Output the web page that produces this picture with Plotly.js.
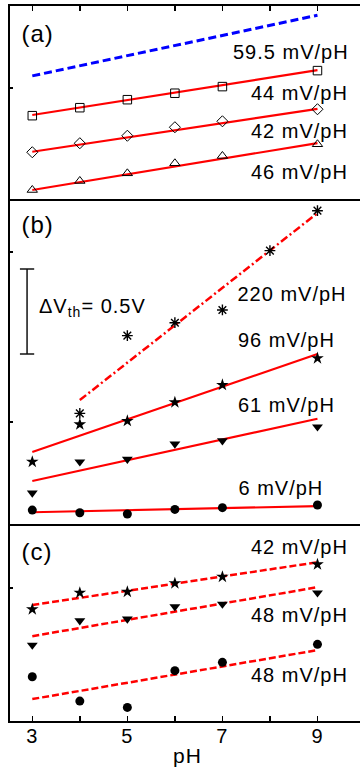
<!DOCTYPE html>
<html>
<head>
<meta charset="utf-8">
<script src="https://cdn.plot.ly/plotly-3.0.1.min.js"></script>
<style>
  html, body { margin: 0; padding: 0; background: #fff; overflow: hidden; }
  #chart { width: 370px; height: 771px; }
  #chart .annotation-text, #chart .xtick text, #chart .g-xtitle text { letter-spacing: 1px; }
</style>
</head>
<body>
<div id="chart"></div>
<script>
// pH values of the measurements
const pH = [3, 4, 5, 6, 7, 9];
const pHHigh = [4, 5, 6, 7, 8, 9];

// Panel (a): threshold voltage shift, V
const squaresA = [0.837, 0.884, 0.931, 0.969, 1.008, 1.102];
const diamondsA = [0.622, 0.675, 0.719, 0.769, 0.804, 0.875];
const trianglesA = [0.400, 0.453, 0.498, 0.557, 0.600, 0.669];

// Panel (b)
const asterisksB = [0.051, 0.508, 0.584, 0.659, 1.008, 1.243];
const starsB = [-0.234, -0.014, 0.006, 0.116, 0.218, 0.375];
const trianglesB = [-0.417, -0.234, -0.219, -0.129, -0.110, -0.028];
const circlesB = [-0.518, -0.534, -0.541, -0.514, -0.504, -0.488];

// Panel (c)
const starsC = [-0.125, -0.028, -0.022, 0.028, 0.066, 0.139];
const trianglesC = [-0.335, -0.192, -0.182, -0.110, -0.094, -0.028];
const circlesC = [-0.522, -0.665, -0.702, -0.486, -0.437, -0.331];

// Sensitivities, mV/pH
const nernstA = 59.5;
const slopesA = [44, 42, 46];
const slopesB = [220, 96, 61, 6];
const slopesC = [42, 48, 48];

// Value of each fit line at its first pH, V
const nernstStartA = 1.071;
const fitStartA = [0.841, 0.625, 0.400];
const fitStartB = [0.129, -0.176, -0.347, -0.531];
const fitFromB = [4, 3, 3, 3];
const fitStartC = [-0.100, -0.283, -0.653];

// Scale bar height, V
const scaleBar = 0.5;

// Labelled x ticks
const xTicks = [3, 5, 7, 9];

const RED = '#ff0000';
const BLACK = '#000000';

function fitLine(x0, y0, slopeMv, x1, xa, ya, line) {
  return {
    x: [x0, x1],
    y: [y0, y0 + slopeMv / 1000 * (x1 - x0)],
    xaxis: xa, yaxis: ya, mode: 'lines', line: line, hoverinfo: 'skip'
  };
}
function points(x, y, xa, ya, marker) {
  return { x: x, y: y, xaxis: xa, yaxis: ya, mode: 'markers', marker: marker };
}
const openMarker = (symbol, size, lw) => ({ symbol: symbol, size: size, color: BLACK, line: { color: BLACK, width: lw || 1 } });
const filledMarker = (symbol, size) => ({ symbol: symbol, size: size, color: BLACK, line: { width: 0 } });

const traces = [];

// Panel (a)
traces.push(fitLine(3, nernstStartA, nernstA, 9, 'x3', 'y3', { color: '#0000ff', width: 3, dash: '8px,4px' }));
slopesA.forEach((s, i) => traces.push(fitLine(3, fitStartA[i], s, 9, 'x3', 'y3', { color: RED, width: 2.2 })));
traces.push(points(pH, squaresA, 'x3', 'y3', openMarker('square-open', 8.5)));
traces.push(points(pH, diamondsA, 'x3', 'y3', openMarker('diamond-open', 8.5)));
traces.push(points(pH, trianglesA, 'x3', 'y3', openMarker('triangle-up-open', 9)));

// Panel (b)
slopesB.forEach((s, i) => traces.push(fitLine(fitFromB[i], fitStartB[i], s, 9, 'x2', 'y2',
  i === 0 ? { color: RED, width: 2.5, dash: '8px,3px,2px,3px' } : { color: RED, width: 2.2 })));
traces.push(points(pHHigh, asterisksB, 'x2', 'y2', openMarker('asterisk-open', 9, 1.4)));
traces.push(points(pH, starsB, 'x2', 'y2', filledMarker('star', 9.5)));
traces.push(points(pH, trianglesB, 'x2', 'y2', filledMarker('triangle-down', 9.5)));
traces.push(points(pH, circlesB, 'x2', 'y2', filledMarker('circle', 9)));

// Panel (c)
slopesC.forEach((s, i) => traces.push(fitLine(3, fitStartC[i], s, 9, 'x', 'y', { color: RED, width: 2.5, dash: '7px,3px' })));
traces.push(points(pH, starsC, 'x', 'y', filledMarker('star', 9.5)));
traces.push(points(pH, trianglesC, 'x', 'y', filledMarker('triangle-down', 9.5)));
traces.push(points(pH, circlesC, 'x', 'y', filledMarker('circle', 9)));

const frame = {
  showline: true, linewidth: 2, linecolor: BLACK, mirror: true,
  zeroline: false, showgrid: false, fixedrange: true
};
const xRange = [2.531, 10];
const yTicks = { ticks: 'inside', ticklen: 3, tickwidth: 1.5, tickcolor: BLACK, showticklabels: false };
const xMinor = { tick0: 3, dtick: 1, ticks: 'inside', ticklen: 5, tickwidth: 1.5, tickcolor: BLACK, showgrid: false };

function label(text, x, y, xa, ya, size) {
  return {
    text: text, x: x, y: y, xref: xa, yref: ya, xanchor: 'left', yanchor: 'middle',
    showarrow: false, font: { size: size, color: BLACK }
  };
}
const mv = s => s + ' mV/pH';

const annotations = [
  label('(a)', 2.76, 1.322, 'x3', 'y3', 24),
  label(mv(nernstA), 7.29, 1.2135, 'x3', 'y3', 20),
  label(mv(slopesA[0]), 7.646, 0.972, 'x3', 'y3', 20),
  label(mv(slopesA[1]), 7.646, 0.747, 'x3', 'y3', 20),
  label(mv(slopesA[2]), 7.646, 0.508, 'x3', 'y3', 20),

  label('(b)', 2.76, 1.159, 'x2', 'y2', 24),
  label(mv(slopesB[0]), 7.373, 0.753, 'x2', 'y2', 20),
  label(mv(slopesB[1]), 7.373, 0.482, 'x2', 'y2', 20),
  label(mv(slopesB[2]), 7.373, 0.100, 'x2', 'y2', 20),
  label(mv(slopesB[3]), 7.373, -0.390, 'x2', 'y2', 20),
  label('ΔV<sub>th</sub>= ' + scaleBar + 'V', 3.198, 0.671, 'x2', 'y2', 20),

  label('(c)', 2.76, 0.214, 'x', 'y', 24),
  label(mv(slopesC[0]), 7.646, 0.243, 'x', 'y', 20),
  label(mv(slopesC[1]), 7.646, -0.159, 'x', 'y', 20),
  label(mv(slopesC[2]), 7.646, -0.512, 'x', 'y', 20)
];

// Scale bar in panel (b)
const barX = 2.89, barCapL = 2.74, barCapR = 3.04, barBase = 0.4;
const barLine = { color: '#111', width: 1.5 };
const shapes = [
  { type: 'line', xref: 'x2', yref: 'y2', x0: barX, x1: barX, y0: barBase, y1: barBase + scaleBar, line: barLine },
  { type: 'line', xref: 'x2', yref: 'y2', x0: barCapL, x1: barCapR, y0: barBase, y1: barBase, line: barLine },
  { type: 'line', xref: 'x2', yref: 'y2', x0: barCapL, x1: barCapR, y0: barBase + scaleBar, y1: barBase + scaleBar, line: barLine }
];

const layout = {
  width: 370, height: 771,
  margin: { l: 10, r: 5, t: 6, b: 50 },
  paper_bgcolor: '#fff', plot_bgcolor: '#fff',
  showlegend: false,
  font: { family: '"Liberation Sans", Arial, sans-serif', size: 20, color: BLACK },
  xaxis: Object.assign({}, frame, {
    domain: [0, 1], range: xRange, anchor: 'y',
    tickmode: 'array', tickvals: xTicks,
    ticks: 'inside', ticklen: 5, tickwidth: 1.5, tickcolor: BLACK,
    ticklabelstandoff: -4,
    minor: xMinor,
    tickfont: { size: 20 },
    title: { text: 'pH', font: { size: 21 }, standoff: 2 }
  }),
  xaxis2: Object.assign({}, frame, { domain: [0, 1], range: xRange, anchor: 'y2', ticks: '', showticklabels: false }),
  xaxis3: Object.assign({}, frame, {
    domain: [0, 1], range: xRange, anchor: 'y3', side: 'top',
    tickmode: 'array', tickvals: xTicks, ticks: 'inside', ticklen: 5, tickwidth: 1.5, tickcolor: BLACK,
    minor: xMinor,
    showticklabels: false
  }),
  yaxis: Object.assign({}, frame, yTicks, { domain: [0, 0.27273], range: [-0.782, 0.365], anchor: 'x', tickmode: 'array', tickvals: [0] }),
  yaxis2: Object.assign({}, frame, yTicks, { domain: [0.27552, 0.72727], range: [-0.6, 1.3], anchor: 'x2', tickmode: 'array', tickvals: [0, 1] }),
  yaxis3: Object.assign({}, frame, yTicks, { domain: [0.73007, 1], range: [0.347, 1.482], anchor: 'x3', tickmode: 'array', tickvals: [1] }),
  annotations: annotations,
  shapes: shapes
};

Plotly.newPlot('chart', traces, layout, { displayModeBar: false, staticPlot: true });
</script>
</body>
</html>
